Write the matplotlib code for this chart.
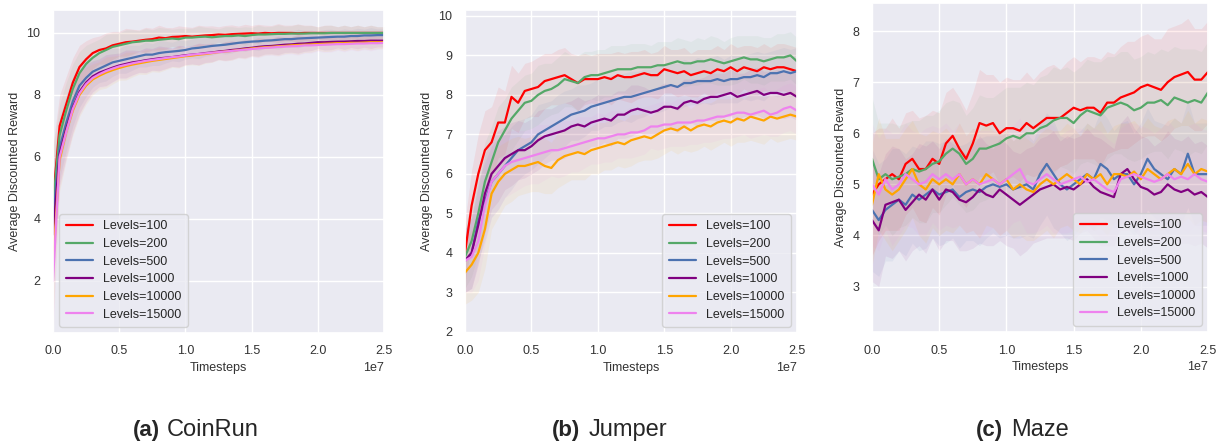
import numpy as np
import matplotlib
matplotlib.use("Agg")
import matplotlib.pyplot as plt
import seaborn as sns

sns.set_theme(style="darkgrid")
plt.rcParams['font.family'] = ['Liberation Sans', 'DejaVu Sans']

# sampling grid: every 5e5 timesteps, 0 .. 2.5e7
steps = np.linspace(0, 2.5e7, 51)

labels = ['Levels=100', 'Levels=200', 'Levels=500', 'Levels=1000', 'Levels=10000', 'Levels=15000']
colors = ['red', '#55a868', '#4c72b0', 'purple', 'orange', 'violet']

# ---- CoinRun ----
coin_100 = [4.6, 7.0, 7.7, 8.4, 8.9, 9.15, 9.35, 9.45, 9.5, 9.6, 9.65, 9.7, 9.72, 9.75, 9.78, 9.8, 9.85,
            9.83, 9.87, 9.88, 9.9, 9.88, 9.9, 9.92, 9.93, 9.95, 9.94, 9.96, 9.97, 9.98, 9.99, 9.98, 10.0,
            9.99, 10.0, 10.0, 10.0, 9.99, 10.0, 10.0, 10.0, 10.0, 10.0, 10.0, 10.0, 10.0, 10.0, 10.0, 10.0,
            10.0, 10.0]
coin_200 = [4.5, 6.7, 7.5, 8.2, 8.7, 9.0, 9.2, 9.35, 9.45, 9.55, 9.6, 9.65, 9.7, 9.72, 9.75, 9.75, 9.78,
            9.8, 9.82, 9.8, 9.85, 9.85, 9.87, 9.88, 9.86, 9.88, 9.9, 9.9, 9.92, 9.9, 9.93, 9.95, 9.95, 9.96,
            9.97, 9.97, 9.98, 9.98, 9.98, 9.99, 9.99, 9.99, 10.0, 10.0, 10.0, 10.0, 10.0, 10.0, 10.0, 10.0,
            10.0]
coin_500 = [4.0, 6.3, 7.1, 7.8, 8.3, 8.55, 8.75, 8.85, 8.95, 9.05, 9.1, 9.15, 9.2, 9.25, 9.3, 9.3, 9.35,
            9.38, 9.4, 9.42, 9.45, 9.5, 9.52, 9.55, 9.58, 9.6, 9.62, 9.65, 9.68, 9.7, 9.72, 9.73, 9.75, 9.76,
            9.78, 9.8, 9.8, 9.82, 9.83, 9.84, 9.85, 9.86, 9.87, 9.88, 9.88, 9.9, 9.9, 9.92, 9.92, 9.93, 9.93]
coin_1000 = [3.5, 6.1, 6.9, 7.6, 8.1, 8.4, 8.6, 8.72, 8.8, 8.88, 8.95, 9.0, 9.05, 9.08, 9.12, 9.15, 9.18,
             9.2, 9.22, 9.25, 9.28, 9.3, 9.32, 9.35, 9.37, 9.4, 9.42, 9.45, 9.47, 9.5, 9.52, 9.55, 9.57, 9.58,
             9.6, 9.62, 9.63, 9.65, 9.66, 9.68, 9.7, 9.7, 9.71, 9.72, 9.72, 9.73, 9.74, 9.74, 9.75, 9.75, 9.75]
coin_10000 = [2.5, 5.9, 6.8, 7.5, 8.0, 8.3, 8.5, 8.62, 8.72, 8.8, 8.87, 8.93, 8.98, 9.02, 9.06, 9.1, 9.13,
              9.16, 9.19, 9.22, 9.25, 9.27, 9.3, 9.32, 9.35, 9.38, 9.4, 9.42, 9.45, 9.47, 9.5, 9.52, 9.54,
              9.55, 9.57, 9.58, 9.6, 9.61, 9.62, 9.63, 9.64, 9.65, 9.66, 9.67, 9.67, 9.68, 9.68, 9.69, 9.7,
              9.7, 9.7]
coin_15000 = [2.0, 6.0, 6.8, 7.55, 8.05, 8.35, 8.55, 8.67, 8.77, 8.85, 8.92, 8.97, 9.02, 9.06, 9.1, 9.13,
              9.16, 9.19, 9.22, 9.24, 9.27, 9.3, 9.32, 9.34, 9.36, 9.38, 9.4, 9.42, 9.44, 9.46, 9.48, 9.5,
              9.52, 9.53, 9.55, 9.56, 9.57, 9.58, 9.6, 9.6, 9.61, 9.62, 9.63, 9.64, 9.64, 9.65, 9.66, 9.66,
              9.67, 9.67, 9.68]
coin_spread = [1.8, 1.0, 0.9, 0.8, 0.7, 0.6, 0.5, 0.45, 0.5, 0.45, 0.4, 0.45, 0.4, 0.35, 0.4, 0.35, 0.4,
               0.35, 0.3, 0.35, 0.3, 0.3, 0.35, 0.3, 0.3, 0.25, 0.3, 0.3, 0.25, 0.3, 0.25, 0.3, 0.25, 0.25,
               0.3, 0.25, 0.25, 0.3, 0.25, 0.25, 0.2, 0.25, 0.25, 0.2, 0.25, 0.2, 0.25, 0.2, 0.25, 0.2, 0.2]

# ---- Jumper ----
jump_100 = [4.0, 5.2, 6.0, 6.6, 6.8, 7.3, 7.3, 7.95, 7.8, 8.1, 8.15, 8.2, 8.35, 8.4, 8.45, 8.5, 8.4,
            8.3, 8.4, 8.4, 8.4, 8.45, 8.4, 8.5, 8.45, 8.45, 8.5, 8.55, 8.5, 8.5, 8.65, 8.6, 8.55, 8.6,
            8.5, 8.55, 8.6, 8.55, 8.65, 8.6, 8.7, 8.6, 8.7, 8.65, 8.6, 8.7, 8.65, 8.7, 8.7, 8.65, 8.6]
jump_200 = [3.9, 4.3, 5.0, 5.8, 6.3, 6.8, 7.1, 7.4, 7.6, 7.8, 7.85, 8.0, 8.1, 8.15, 8.25, 8.4, 8.35,
            8.3, 8.45, 8.5, 8.5, 8.55, 8.6, 8.65, 8.65, 8.65, 8.7, 8.7, 8.7, 8.75, 8.75, 8.8, 8.85, 8.8,
            8.8, 8.85, 8.85, 8.9, 8.85, 8.8, 8.85, 8.9, 8.95, 8.9, 8.9, 8.85, 8.9, 8.95, 8.95, 9.0, 8.85]
jump_500 = [3.8, 4.0, 4.8, 5.3, 5.8, 6.0, 6.2, 6.4, 6.6, 6.7, 6.8, 7.0, 7.1, 7.2, 7.3, 7.4, 7.5, 7.55,
            7.6, 7.7, 7.75, 7.8, 7.85, 7.9, 7.95, 7.95, 8.0, 8.05, 8.1, 8.15, 8.2, 8.25, 8.2, 8.3, 8.3,
            8.35, 8.35, 8.35, 8.4, 8.35, 8.4, 8.4, 8.45, 8.45, 8.5, 8.45, 8.55, 8.55, 8.6, 8.55, 8.6]
jump_1000 = [3.8, 4.0, 4.7, 5.5, 6.0, 6.2, 6.4, 6.5, 6.6, 6.6, 6.7, 6.85, 6.95, 7.0, 7.05, 7.1, 7.2,
             7.25, 7.2, 7.3, 7.35, 7.4, 7.35, 7.5, 7.5, 7.6, 7.65, 7.6, 7.55, 7.6, 7.7, 7.7, 7.65, 7.8,
             7.85, 7.8, 7.9, 7.95, 7.95, 8.0, 8.05, 7.95, 8.0, 8.05, 8.1, 8.0, 8.05, 8.05, 8.0, 8.05, 7.95]
jump_10000 = [3.5, 3.7, 4.0, 4.6, 5.5, 5.8, 6.0, 6.1, 6.2, 6.2, 6.25, 6.3, 6.2, 6.15, 6.35, 6.45, 6.5,
              6.55, 6.5, 6.6, 6.65, 6.7, 6.75, 6.8, 6.75, 6.85, 6.9, 6.95, 6.9, 7.0, 7.1, 7.15, 7.1, 7.2,
              7.1, 7.2, 7.25, 7.2, 7.3, 7.35, 7.3, 7.4, 7.35, 7.45, 7.4, 7.35, 7.45, 7.4, 7.45, 7.5, 7.45]
jump_15000 = [3.8, 3.9, 4.3, 5.2, 5.8, 6.0, 6.2, 6.3, 6.35, 6.4, 6.45, 6.5, 6.55, 6.6, 6.6, 6.65, 6.7,
              6.75, 6.8, 6.85, 6.9, 6.9, 6.95, 7.0, 7.0, 7.05, 7.05, 7.1, 7.2, 7.2, 7.25, 7.25, 7.3, 7.3,
              7.3, 7.35, 7.35, 7.4, 7.45, 7.45, 7.5, 7.55, 7.55, 7.5, 7.55, 7.6, 7.5, 7.55, 7.65, 7.7, 7.6]
jump_spread = [0.8, 0.9, 1.0, 1.0, 0.9, 0.9, 0.8, 0.8, 0.75, 0.7, 0.7, 0.75, 0.7, 0.65, 0.7, 0.7, 0.65,
               0.7, 0.65, 0.6, 0.65, 0.6, 0.65, 0.6, 0.6, 0.65, 0.6, 0.6, 0.55, 0.6, 0.6, 0.55, 0.6, 0.6,
               0.55, 0.6, 0.55, 0.6, 0.6, 0.55, 0.6, 0.6, 0.55, 0.6, 0.6, 0.6, 0.55, 0.6, 0.6, 0.6, 0.6]

# ---- Maze ----
maze_100 = [4.8, 5.0, 5.1, 5.2, 5.1, 5.4, 5.5, 5.3, 5.3, 5.5, 5.4, 5.8, 5.95, 5.7, 5.5, 5.8, 6.2, 6.15,
            6.2, 6.0, 6.1, 6.1, 6.05, 6.2, 6.1, 6.2, 6.3, 6.3, 6.3, 6.4, 6.5, 6.45, 6.5, 6.5, 6.4, 6.6,
            6.6, 6.7, 6.75, 6.8, 6.9, 6.95, 6.9, 6.85, 7.0, 7.1, 7.15, 7.2, 7.05, 7.05, 7.2]
maze_200 = [5.5, 5.1, 5.2, 5.1, 5.15, 5.2, 5.3, 5.25, 5.3, 5.4, 5.45, 5.6, 5.7, 5.6, 5.4, 5.5, 5.7, 5.7,
            5.75, 5.8, 5.9, 5.95, 5.9, 6.0, 6.0, 6.1, 6.15, 6.25, 6.3, 6.3, 6.2, 6.35, 6.45, 6.4, 6.35,
            6.5, 6.55, 6.6, 6.55, 6.45, 6.5, 6.6, 6.6, 6.65, 6.55, 6.7, 6.65, 6.6, 6.65, 6.6, 6.8]
maze_500 = [4.5, 4.3, 4.5, 4.6, 4.7, 4.6, 4.8, 4.7, 4.8, 4.9, 4.8, 4.85, 4.9, 4.75, 4.85, 4.9, 4.85,
            4.95, 5.0, 4.95, 5.0, 4.9, 4.95, 5.0, 4.9, 5.2, 5.4, 5.2, 5.0, 4.9, 5.0, 5.1, 5.2, 5.1, 5.4,
            5.3, 5.1, 5.2, 5.2, 5.0, 5.2, 5.5, 5.3, 5.2, 5.1, 5.3, 5.2, 5.6, 5.2, 5.2, 5.2]
maze_1000 = [4.3, 4.1, 4.6, 4.65, 4.7, 4.5, 4.65, 4.8, 4.7, 4.9, 4.7, 4.9, 4.85, 4.7, 4.65, 4.75, 4.9,
             4.8, 4.75, 4.9, 4.8, 4.7, 4.6, 4.7, 4.8, 4.9, 4.95, 5.0, 4.9, 4.95, 4.9, 5.0, 5.1, 4.95,
             4.85, 4.8, 4.75, 5.2, 5.3, 5.1, 4.95, 4.9, 4.8, 4.85, 5.0, 4.9, 4.85, 4.9, 4.8, 4.85, 4.75]
maze_10000 = [4.6, 5.2, 4.9, 4.8, 4.9, 5.1, 5.3, 5.0, 4.9, 5.1, 5.0, 5.1, 5.0, 5.2, 5.0, 5.1, 5.0, 5.2,
              5.1, 5.0, 5.1, 4.9, 5.0, 4.9, 4.85, 5.0, 5.1, 5.0, 5.1, 5.2, 5.1, 5.0, 5.2, 5.1, 5.2, 5.0,
              5.2, 5.2, 5.15, 5.25, 5.1, 5.3, 5.2, 5.1, 5.2, 5.3, 5.2, 5.4, 5.2, 5.3, 5.25]
maze_15000 = [5.0, 4.8, 5.1, 4.9, 5.0, 5.2, 5.1, 5.0, 5.05, 5.2, 5.1, 5.2, 5.1, 5.2, 5.0, 5.1, 5.0,
              5.05, 5.1, 5.0, 5.1, 5.2, 5.3, 5.05, 5.0, 5.1, 5.2, 5.1, 5.0, 5.05, 5.1, 5.15, 5.05, 5.1,
              5.0, 4.9, 4.85, 5.1, 5.15, 5.2, 5.15, 5.1, 5.05, 5.1, 5.2, 5.1, 5.15, 5.1, 5.2, 5.1, 5.05]
maze_spread = [1.2, 1.1, 1.0, 1.1, 1.0, 1.0, 0.95, 1.0, 1.05, 0.95, 1.0, 1.0, 0.95, 1.0, 0.95, 1.0,
               1.05, 1.0, 0.95, 1.0, 1.0, 0.95, 1.0, 1.0, 0.95, 1.0, 1.0, 1.05, 0.95, 1.0, 1.0, 0.95,
               1.0, 1.0, 1.05, 1.0, 0.95, 1.0, 1.05, 1.0, 1.0, 1.0, 0.95, 1.0, 1.05, 1.0, 1.0, 1.05,
               1.0, 1.0, 1.0]

panels = [
    dict(series=[coin_100, coin_200, coin_500, coin_1000, coin_10000, coin_15000], spread=coin_spread,
         ylim=(0.32, 10.74), yticks=[2, 4, 6, 8, 10], legend='lower left',
         rect=[53, 333, 331, 323], tag='(a)', name='CoinRun', tag_x=160, name_x=167),
    dict(series=[jump_100, jump_200, jump_500, jump_1000, jump_10000, jump_15000], spread=jump_spread,
         ylim=(1.97, 10.15), yticks=[2, 3, 4, 5, 6, 7, 8, 9, 10], legend='lower right',
         rect=[465, 333, 332, 323], tag='(b)', name='Jumper', tag_x=580, name_x=589),
    dict(series=[maze_100, maze_200, maze_500, maze_1000, maze_10000, maze_15000], spread=maze_spread,
         ylim=(2.11, 8.55), yticks=[3, 4, 5, 6, 7, 8], legend='lower right',
         rect=[872, 332, 336, 329], tag='(c)', name='Maze', tag_x=1003, name_x=1011),
]

W, H = 1228, 443
fig = plt.figure(figsize=(W / 100, H / 100), dpi=100)

for p in panels:
    l, b, w, h = p['rect']
    ax = fig.add_axes([l / W, (H - b) / H, w / W, h / H])
    sp = np.array(p['spread'])
    for vals, c in zip(p['series'], colors):
        v = np.array(vals)
        ax.fill_between(steps, v - sp, v + sp, color=c, alpha=0.07, lw=0)
    for vals, c, lab in zip(p['series'], colors, labels):
        ax.plot(steps, vals, color=c, lw=1.6, label=lab)
    ax.set_xlim(0, 2.5e7)
    ax.set_ylim(*p['ylim'])
    ax.set_yticks(p['yticks'])
    ax.set_xticks([0, 0.5e7, 1.0e7, 1.5e7, 2.0e7, 2.5e7])
    ax.tick_params(labelsize=9, pad=3, colors='#333333')
    ax.xaxis.get_offset_text().set_fontsize(9)
    ax.xaxis.get_offset_text().set_color('#333333')
    ax.set_xlabel('Timesteps', fontsize=9, labelpad=3, color='#333333')
    ax.set_ylabel('Average Discounted Reward', fontsize=9, labelpad=4, color='#333333')
    ax.legend(loc=p['legend'], fontsize=9, handlelength=2.2, labelspacing=0.45,
              borderpad=0.5, framealpha=0.8)
    fig.text(p['tag_x'] / W, (H - 436) / H, p['tag'], ha='right', va='baseline',
             fontsize=16, fontweight='bold')
    fig.text(p['name_x'] / W, (H - 436) / H, p['name'], ha='left', va='baseline', fontsize=17)

fig.savefig('out.png', dpi=100, facecolor='white')
